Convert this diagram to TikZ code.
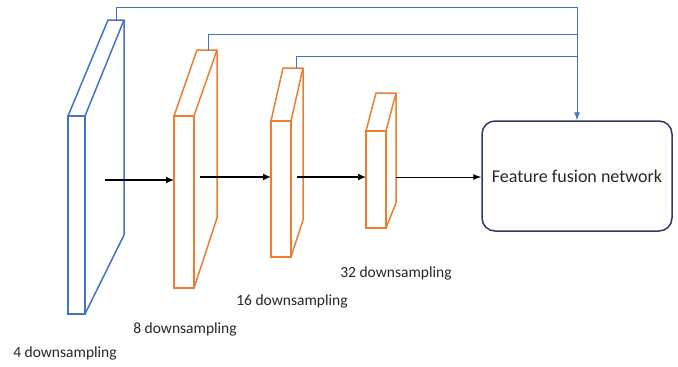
\documentclass[tikz,border=0pt]{standalone}
\usepackage{fontspec}
\setmainfont{Carlito}
\usetikzlibrary{arrows.meta}
\definecolor{layerblue}{HTML}{4472C4}
\definecolor{layerorange}{HTML}{ED7D31}
\definecolor{boxnavy}{HTML}{2F3B5E}
\definecolor{txtgray}{HTML}{262626}
\tikzset{
  face/.style={draw, line width=1.5pt, inner sep=0pt, outer sep=0pt},
  bluelayer/.style={face, draw=layerblue},
  orangelayer/.style={face, draw=layerorange},
  edgeblue/.style={draw=layerblue, line width=1.5pt, line join=round},
  edgeorange/.style={draw=layerorange, line width=1.5pt, line join=round},
  flow/.style={black, line width=1.5pt, -{Latex[length=8pt,width=7pt]}},
  skip/.style={layerblue, line width=1pt},
  skiparrow/.style={skip, -{Latex[length=8pt,width=6pt]}},
  caption/.style={font=\fontsize{15.5}{18}\selectfont, text=txtgray, inner sep=0pt},
  fusionbox/.style={draw=boxnavy, line width=1.5pt, rounded corners=13pt,
    minimum width=190pt, minimum height=110pt, inner sep=0pt,
    font=\fontsize{18}{22}\selectfont, text=txtgray}
}
\begin{document}
\begin{tikzpicture}[x=1pt,y=-1pt]
\useasboundingbox (0,0) rectangle (678,367);

% front faces of the four feature maps
\node[bluelayer, minimum width=17pt, minimum height=198pt] (f1) at (76.5,215) {};
\node[orangelayer, minimum width=20pt, minimum height=172pt] (f2) at (184,202) {};
\node[orangelayer, minimum width=20pt, minimum height=136pt] (f3) at (281,189) {};
\node[orangelayer, minimum width=20pt, minimum height=97pt] (f4) at (376,179.5) {};

% back corners (depth of each map)
\coordinate (t1l) at (108,20);  \coordinate (t1r) at (124,20);  \coordinate (s1b) at (124,235);
\coordinate (t2l) at (197,50);  \coordinate (t2r) at (217,50);  \coordinate (s2b) at (217,218);
\coordinate (t3l) at (283,68);  \coordinate (t3r) at (303,68);  \coordinate (s3b) at (303,220);
\coordinate (t4l) at (376,93);  \coordinate (t4r) at (396,93);  \coordinate (s4b) at (396,203);

\draw[edgeblue]   (f1.north west) -- (t1l) -- (t1r) -- (f1.north east);
\draw[edgeblue]   (t1r) -- (s1b) -- (f1.south east);
\draw[edgeorange] (f2.north west) -- (t2l) -- (t2r) -- (f2.north east);
\draw[edgeorange] (t2r) -- (s2b) -- (f2.south east);
\draw[edgeorange] (f3.north west) -- (t3l) -- (t3r) -- (f3.north east);
\draw[edgeorange] (t3r) -- (s3b) -- (f3.south east);
\draw[edgeorange] (f4.north west) -- (t4l) -- (t4r) -- (f4.north east);
\draw[edgeorange] (t4r) -- (s4b) -- (f4.south east);

% fusion network
\node[fusionbox] (fuse) at (577,176) {Feature fusion network};

% forward path
\coordinate (o1) at (105,180);
\coordinate (o2) at (200,177);
\coordinate (o3) at (297,177);
\coordinate (o4) at (396,177);
\draw[flow] (o1) -- (o1 -| f2.west);
\draw[flow] (o2) -- (o2 -| f3.west);
\draw[flow] (o3) -- (o3 -| f4.west);
\draw[black, line width=1pt, -{Latex[length=8pt,width=6pt]}] (o4) -- (o4 -| fuse.west);

% skip connections into the fusion network
\coordinate (k1) at (116,20);
\coordinate (k2) at (208,50);
\coordinate (k3) at (296,68);
\coordinate (r1) at (577,7);
\coordinate (r2) at (577,34);
\coordinate (r3) at (577,56);
\draw[skip] (k1) |- (r1);
\draw[skip] (k2) |- (r2);
\draw[skip] (k3) |- (r3);
\draw[skiparrow] (r1) -- (fuse.north);

% scale labels
\node[caption] (c1) at (65,353) {4 downsampling};
\node[caption] (c2) at (185,329) {8 downsampling};
\node[caption] (c3) at (292,301) {16 downsampling};
\node[caption] (c4) at (396,273) {32 downsampling};
\end{tikzpicture}
\end{document}
